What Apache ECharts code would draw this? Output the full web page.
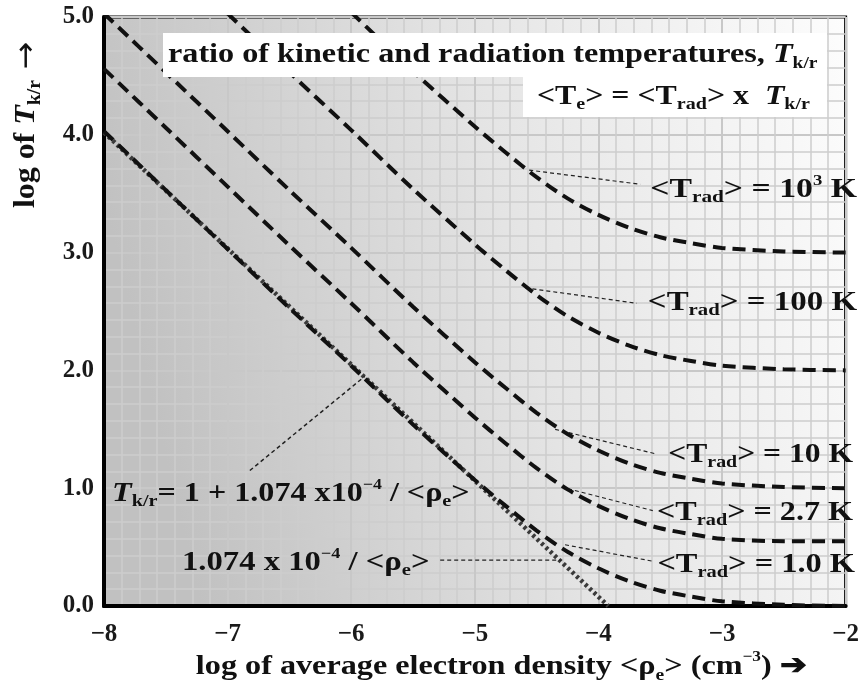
<!DOCTYPE html>
<html>
<head>
<meta charset="utf-8">
<script src="https://cdn.jsdelivr.net/npm/echarts@6/dist/echarts.min.js"></script>
<style>
  html, body { margin: 0; background: #fff; }
  #chart { width: 862px; height: 689px; }
</style>
</head>
<body>
<div id="chart"></div>
<script>
// log of average electron density (x positions)
var logDensity = [-8, -7.5, -7, -6.5, -6, -5.5, -5, -4.75, -4.5, -4.25, -4, -3.75, -3.5, -3.25, -3, -2.5, -2]

// log of T for each <Trad> curve (null = above the top of the plot)
var trad1 = [4.03, 3.53, 3.03, 2.53, 2.04, 1.54, 1.07, 0.85, 0.64, 0.46, 0.32, 0.21, 0.13, 0.08, 0.04, 0.01, 0.00]
var trad27 = [4.56, 4.06, 3.56, 3.06, 2.57, 2.07, 1.60, 1.38, 1.17, 0.99, 0.85, 0.74, 0.66, 0.61, 0.57, 0.55, 0.55]
var trad10 = [5.03, 4.53, 4.03, 3.53, 3.04, 2.54, 2.07, 1.85, 1.64, 1.46, 1.32, 1.21, 1.13, 1.08, 1.04, 1.01, 1.00]
var trad100 = [null, null, 5.03, 4.53, 4.04, 3.54, 3.07, 2.85, 2.64, 2.46, 2.32, 2.21, 2.13, 2.08, 2.04, 2.01, 2.00]
var trad1000 = [null, null, null, null, 5.04, 4.54, 4.07, 3.85, 3.64, 3.46, 3.32, 3.21, 3.13, 3.08, 3.04, 3.01, 3.00]

// straight line 1.074e-4 / <rho_e>
var ratioLine = [[-8, 4.02], [-3.92, 0]]

// thin leader lines from the labels to the curves
var leader1000 = [[-4.56, 3.70], [-3.66, 3.58]]
var leader100 = [[-4.59, 2.70], [-3.69, 2.57]]
var leader10 = [[-4.35, 1.50], [-3.53, 1.29]]
var leader27 = [[-4.30, 1.01], [-3.56, 0.81]]
var leader1 = [[-4.27, 0.52], [-3.56, 0.38]]
var leaderRatio = [[-5.28, 0.39], [-4.30, 0.39]]
var leaderTkr = [[-6.82, 1.15], [-5.89, 1.95]]

var FONT = '"Liberation Serif", "Times New Roman", "DejaVu Serif", serif'

function pairs(xs, ys) {
  var out = []
  for (var i = 0; i < xs.length; i++) {
    if (ys[i] !== null) out.push([xs[i], ys[i]])
  }
  return out
}

function rich(size) {
  return {
    n: { fontFamily: FONT, fontWeight: 'bold', fontSize: size, lineHeight: size + 6, fill: '#111' },
    i: { fontFamily: FONT, fontWeight: 'bold', fontStyle: 'italic', fontSize: size, lineHeight: size + 6, fill: '#111' },
    s: { fontFamily: FONT, fontWeight: 'bold', fontSize: Math.round(size * 0.62), lineHeight: Math.round(size * 0.55), verticalAlign: 'bottom', fill: '#111' },
    p: { fontFamily: FONT, fontWeight: 'bold', fontSize: Math.round(size * 0.55), lineHeight: Math.round(size * 0.7), verticalAlign: 'top', fill: '#111' },
    a: { fontFamily: '"DejaVu Sans", sans-serif', fontSize: Math.round(size * 1.05), lineHeight: size + 6, fill: '#111' }
  }
}

function label(text, x, y, size, align, extra) {
  var el = {
    type: 'text',
    x: x,
    y: y,
    scaleX: 1.15,
    z: 110,
    silent: true,
    style: { text: text, rich: rich(size), align: align, verticalAlign: 'middle' }
  }
  if (extra) Object.assign(el, extra)
  return el
}

function curve(name, data) {
  return {
    name: name,
    type: 'line',
    data: data,
    symbol: 'none',
    smooth: 0.3,
    silent: true,
    z: 5,
    lineStyle: { color: '#111', width: 4, type: [13, 7], cap: 'butt' }
  }
}

function leader(data, w) {
  return {
    type: 'line',
    data: data,
    symbol: 'none',
    silent: true,
    z: 4,
    lineStyle: { color: '#222', width: w || 1.2, type: [4, 3] }
  }
}

var chart = echarts.init(document.getElementById('chart'), null, { renderer: 'canvas' })

var axisCommon = {
  type: 'value',
  axisLine: { show: true, lineStyle: { color: '#000', width: 4 } },
  axisTick: { show: false },
  minorTick: { show: false, splitNumber: 7 },
  splitLine: { show: true, lineStyle: { color: '#c8c8c8', width: 2 } },
  minorSplitLine: { show: true, lineStyle: { color: '#cdcdcd', width: 1.5 } }
}

var option = {
  animation: false,
  backgroundColor: '#fff',
  grid: {
    left: 104, right: 4, top: 17, bottom: 83,
    show: true,
    borderColor: '#000',
    borderWidth: 3,
    backgroundColor: {
      type: 'linear', x: 0, y: 0.3, x2: 1, y2: 0,
      colorStops: [
        { offset: 0, color: '#c1c1c1' },
        { offset: 0.5, color: '#e4e4e4' },
        { offset: 1, color: '#fdfdfd' }
      ]
    }
  },
  xAxis: Object.assign({}, axisCommon, {
    min: -8, max: -2, interval: 1,
    axisLabel: {
      margin: 16, color: '#1a1a1a', fontFamily: FONT, fontWeight: 'bold', fontSize: 25,
      formatter: function (v) { return String(v).replace('-', '\u2212') }
    }
  }),
  yAxis: Object.assign({}, axisCommon, {
    min: 0, max: 5, interval: 1,
    axisLabel: {
      margin: 10, color: '#1a1a1a', fontFamily: FONT, fontWeight: 'bold', fontSize: 25,
      formatter: function (v) { return v.toFixed(1) }
    }
  }),
  series: [
    {
      type: 'line', data: ratioLine, symbol: 'none', silent: true, z: 4,
      lineStyle: { color: '#3a3a3a', width: 4.5, type: [3, 3] }
    },
    curve('1.0 K', pairs(logDensity, trad1)),
    curve('2.7 K', pairs(logDensity, trad27)),
    curve('10 K', pairs(logDensity, trad10)),
    curve('100 K', pairs(logDensity, trad100)),
    curve('1000 K', pairs(logDensity, trad1000)),
    leader(leader1000),
    leader(leader100),
    leader(leader10),
    leader(leader27),
    leader(leader1),
    leader(leaderRatio),
    leader(leaderTkr, 1.5)
  ],
  graphic: [
    { type: 'rect', z: 100, silent: true, shape: { x: 163, y: 33, width: 664, height: 44 }, style: { fill: '#fff' } },
    { type: 'rect', z: 100, silent: true, shape: { x: 523, y: 77, width: 304, height: 40 }, style: { fill: '#fff' } },
    label('{n|ratio of kinetic and radiation temperatures, }{i|T}{s|k/r}', 168, 55, 28, 'left'),
    label('{n|<T}{s|e}{n|> = <T}{s|rad}{n|> x  }{i|T}{s|k/r}', 810, 97, 27, 'right', { scaleX: 1.18 }),
    label('{n|<T}{s|rad}{n|> = 10}{p|3}{n| K}', 857, 190, 27, 'right', { scaleX: 1.25 }),
    label('{n|<T}{s|rad}{n|> = 100 K}', 857, 303, 27, 'right', { scaleX: 1.22 }),
    label('{n|<T}{s|rad}{n|> = 10 K}', 853, 455, 27, 'right', { scaleX: 1.17 }),
    label('{n|<T}{s|rad}{n|> = 2.7 K}', 853, 513, 27, 'right', { scaleX: 1.19 }),
    label('{n|<T}{s|rad}{n|> = 1.0 K}', 855, 565, 27, 'right', { scaleX: 1.2 }),
    label('{i|T}{s|k/r}{n|= 1 + 1.074 x10}{p|\u22124}{n| / <\u03c1}{s|e}{n|>}', 112, 494, 27, 'left', { scaleX: 1.19 }),
    label('{n|1.074 x 10}{p|\u22124}{n| / <\u03c1}{s|e}{n|>}', 182, 563, 27, 'left', { scaleX: 1.21 }),
    label('{n|log of }{i|T}{s|k/r}{a| \u2192}', 27, 125, 29, 'center', { rotation: Math.PI / 2, scaleX: 1.1 }),
    label('{n|log of average electron density <\u03c1}{s|e}{n|> (cm}{p|\u22123}{n|) \u2794}', 501, 667, 28, 'center', { scaleX: 1.15 })
  ]
}

chart.setOption(option)
</script>
</body>
</html>
